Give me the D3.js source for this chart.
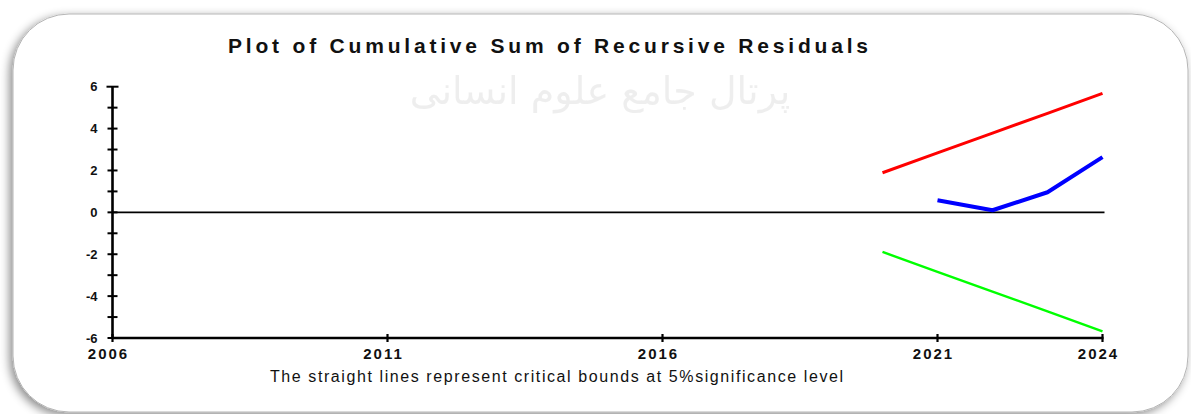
<!DOCTYPE html>
<html>
<head>
<meta charset="utf-8">
<script src="https://cdn.jsdelivr.net/npm/d3@7"></script>
<style>
  html, body { margin: 0; padding: 0; background: #fff; }
  svg { display: block; }
</style>
</head>
<body>
<div id="chart"></div>
<script>
const width = 1191, height = 414;

// Data
const boundYears = [2020, 2021, 2022, 2023, 2024];
const upperBound = [1.89, 2.84, 3.78, 4.73, 5.68];
const lowerBound = [-1.89, -2.84, -3.78, -4.73, -5.68];
const cusumYears = [2021, 2022, 2023, 2024];
const cusumValues = [0.58, 0.10, 0.96, 2.64];
const xTickYears = [2006, 2011, 2016, 2021, 2024];
const yTickLabels = [-6, -4, -2, 0, 2, 4, 6];
const yMinorTicks = [-5, -3, -1, 1, 3, 5];

const x = d3.scaleLinear().domain([2006, 2024]).range([112.5, 1102.5]);
const y = d3.scaleLinear().domain([-6, 6]).range([338, 86.7]);

const svg = d3.select("#chart")
  .append("svg")
  .attr("width", width)
  .attr("height", height)
  .attr("viewBox", [0, 0, width, height]);

// Rounded frame with soft shadow
const defs = svg.append("defs");
const shadow = defs.append("filter").attr("id", "shadow")
  .attr("x", "-5%").attr("y", "-10%").attr("width", "110%").attr("height", "130%");
shadow.append("feDropShadow")
  .attr("dx", -3).attr("dy", 3).attr("stdDeviation", 5)
  .attr("flood-color", "#000").attr("flood-opacity", 0.45);

svg.append("rect")
  .attr("x", 13).attr("y", 14)
  .attr("width", 1175).attr("height", 398)
  .attr("rx", 56).attr("ry", 56)
  .attr("fill", "#fff")
  .attr("stroke", "#b5b5b5")
  .attr("stroke-width", 1)
  .attr("filter", "url(#shadow)");

// Faint watermark (kept below the title)
svg.append("text")
  .attr("x", 600).attr("y", 104)
  .attr("text-anchor", "middle")
  .style("font-family", "DejaVu Sans, sans-serif")
  .style("font-size", "38px")
  .attr("fill", "#e4e4e4")
  .attr("opacity", 0.6)
  .text("پرتال جامع علوم انسانی");

// Title
svg.append("text")
  .attr("x", 228).attr("y", 53)
  .attr("textLength", 640)
  .attr("lengthAdjust", "spacing")
  .style("font-family", "Liberation Sans, Arial, sans-serif")
  .style("font-size", "21px")
  .style("font-weight", "bold")
  .attr("fill", "#111")
  .text("Plot of Cumulative Sum of Recursive Residuals");

// Zero line
svg.append("line")
  .attr("x1", x(2006)).attr("x2", x(2024) + 2)
  .attr("y1", y(0)).attr("y2", y(0))
  .attr("stroke", "#000").attr("stroke-width", 1.8);

// Bounds and CUSUM
const line = d3.line().x(d => x(d[0])).y(d => y(d[1]));

svg.append("path")
  .datum(boundYears.map((yr, i) => [yr, upperBound[i]]))
  .attr("d", line)
  .attr("fill", "none").attr("stroke", "#ff0000").attr("stroke-width", 3);

svg.append("path")
  .datum(boundYears.map((yr, i) => [yr, lowerBound[i]]))
  .attr("d", line)
  .attr("fill", "none").attr("stroke", "#00ff00").attr("stroke-width", 2.4);

svg.append("path")
  .datum(cusumYears.map((yr, i) => [yr, cusumValues[i]]))
  .attr("d", line)
  .attr("fill", "none").attr("stroke", "#0000ff").attr("stroke-width", 4)
  .attr("stroke-linejoin", "round");

// Y axis
const yAxis = svg.append("g");
yAxis.append("line")
  .attr("x1", x(2006)).attr("x2", x(2006))
  .attr("y1", y(6)).attr("y2", y(-6))
  .attr("stroke", "#000").attr("stroke-width", 2.6);

yAxis.selectAll(".major")
  .data(yTickLabels)
  .join("line")
  .attr("x1", d => x(2006) - (d === 6 ? 6 : 5))
  .attr("x2", d => x(2006) + (d === 6 ? 6 : 5))
  .attr("y1", d => y(d)).attr("y2", d => y(d))
  .attr("stroke", "#000").attr("stroke-width", 2);

yAxis.selectAll(".minor")
  .data(yMinorTicks)
  .join("line")
  .attr("x1", x(2006) - 5).attr("x2", x(2006) + 5)
  .attr("y1", d => y(d)).attr("y2", d => y(d))
  .attr("stroke", "#000").attr("stroke-width", 2);

yAxis.selectAll("text")
  .data(yTickLabels)
  .join("text")
  .attr("x", x(2006) - 15)
  .attr("y", d => y(d) + 4.5)
  .attr("text-anchor", "end")
  .style("font-family", "Liberation Sans, Arial, sans-serif")
  .style("font-size", "13px")
  .style("font-weight", "bold")
  .attr("fill", "#111")
  .text(d => d);

// X axis
const xAxis = svg.append("g");
xAxis.append("line")
  .attr("x1", x(2006)).attr("x2", x(2024) + 1)
  .attr("y1", y(-6)).attr("y2", y(-6))
  .attr("stroke", "#000").attr("stroke-width", 2.4);

xAxis.selectAll("line.tick")
  .data(xTickYears)
  .join("line")
  .attr("class", "tick")
  .attr("x1", d => x(d)).attr("x2", d => x(d))
  .attr("y1", y(-6) - 4).attr("y2", y(-6) + 4)
  .attr("stroke", "#000").attr("stroke-width", 2.2);

xAxis.selectAll("text")
  .data(xTickYears)
  .join("text")
  .attr("x", d => x(d) - 4)
  .attr("y", y(-6) + 21)
  .attr("text-anchor", "middle")
  .style("font-family", "Liberation Sans, Arial, sans-serif")
  .style("font-size", "15px")
  .style("font-weight", "bold")
  .style("letter-spacing", "2px")
  .attr("fill", "#111")
  .text(d => d);

// Footnote
svg.append("text")
  .attr("x", 270).attr("y", 382)
  .attr("textLength", 573)
  .attr("lengthAdjust", "spacing")
  .style("font-family", "Liberation Sans, Arial, sans-serif")
  .style("font-size", "16px")
  .attr("fill", "#111")
  .text("The straight lines represent critical bounds at 5%significance level");
</script>
</body>
</html>
